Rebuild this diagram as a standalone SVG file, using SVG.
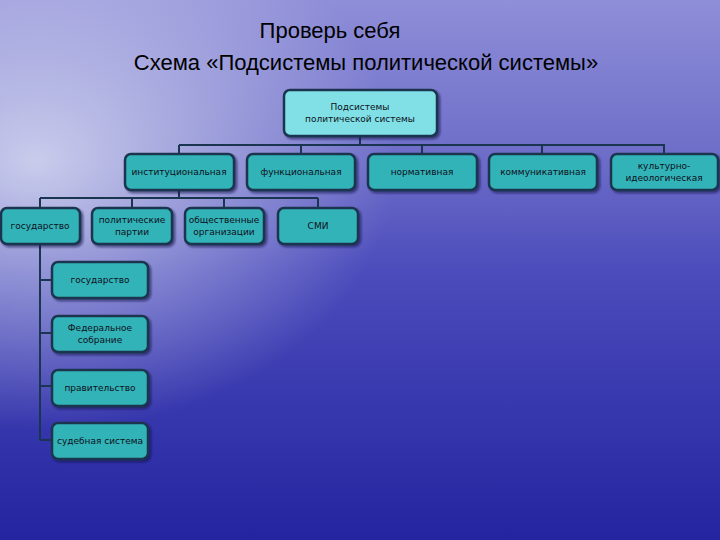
<svg xmlns="http://www.w3.org/2000/svg" width="720" height="540" viewBox="0 0 720 540">
<defs>
<linearGradient id="bg" x1="0" y1="0" x2="0" y2="1">
<stop offset="0" stop-color="#8f8ed8"/>
<stop offset="0.3" stop-color="#6c6cc8"/>
<stop offset="0.5" stop-color="#4c4cbc"/>
<stop offset="1" stop-color="#2424a0"/>
</linearGradient>
<radialGradient id="glow" cx="0.05" cy="0.3" r="0.5">
<stop offset="0" stop-color="#e0e4f4" stop-opacity="0.8"/>
<stop offset="1" stop-color="#e0e4f4" stop-opacity="0"/>
</radialGradient>
<filter id="sh" x="-10%" y="-10%" width="130%" height="140%">
<feDropShadow dx="2" dy="2" stdDeviation="1" flood-color="#10104a" flood-opacity="0.6"/>
</filter>
</defs>
<style>
.b{fill:#33b3b8;stroke:#1a3550;stroke-width:2.5;filter:url(#sh)}
.r{fill:#80e0e6;stroke:#1a3550;stroke-width:2.5;filter:url(#sh)}
.t{font-family:"DejaVu Sans",sans-serif;font-size:9px;fill:#101020;text-anchor:middle}
.h{font-family:"Liberation Sans",sans-serif;font-size:22px;fill:#000;text-anchor:middle}
.c{stroke:#1a3550;stroke-width:2;fill:none}
</style>
<rect width="720" height="540" fill="url(#bg)"/>
<rect width="720" height="540" fill="url(#glow)"/>
<text class="h" x="330" y="38">Проверь себя</text>
<text class="h" x="366" y="70">Схема «Подсистемы политической системы»</text>
<g id="connectors">
<path class="c" d="M360 137V145M179 145H665M179 145V154M301 145V154M422 145V154M542 145V154M664 145V154"/>
<path class="c" d="M179 190V198M40 198H318M40 198V208M132 198V208M224 198V208M318 198V208"/>
<path class="c" d="M40 244V440M40 280H52M40 333H52M40 386H52M40 440H52"/>
</g>
<g id="root"><rect class="r" x="284" y="90" width="153" height="46" rx="6"/><text class="t" x="360" y="110">Подсистемы</text><text class="t" x="360" y="122">политической системы</text></g>
<g id="inst"><rect class="b" x="125" y="154" width="109" height="36" rx="6"/><text class="t" x="179" y="175">институциональная</text></g>
<g id="func"><rect class="b" x="247" y="154" width="108" height="36" rx="6"/><text class="t" x="301" y="175">функциональная</text></g>
<g id="norm"><rect class="b" x="368" y="154" width="109" height="36" rx="6"/><text class="t" x="422" y="175">нормативная</text></g>
<g id="comm"><rect class="b" x="489" y="154" width="108" height="36" rx="6"/><text class="t" x="543" y="175">коммуникативная</text></g>
<g id="cult"><rect class="b" x="611" y="154" width="107" height="36" rx="6"/><text class="t" x="664" y="169">культурно-</text><text class="t" x="664" y="181">идеологическая</text></g>
<g id="gos1"><rect class="b" x="1" y="208" width="79" height="36" rx="6"/><text class="t" x="40" y="229">государство</text></g>
<g id="part"><rect class="b" x="92" y="208" width="80" height="36" rx="6"/><text class="t" x="132" y="223">политические</text><text class="t" x="132" y="235">партии</text></g>
<g id="obsh"><rect class="b" x="185" y="208" width="79" height="36" rx="6"/><text class="t" x="224" y="223">общественные</text><text class="t" x="224" y="235">организации</text></g>
<g id="smi"><rect class="b" x="278" y="208" width="80" height="36" rx="6"/><text class="t" x="318" y="229">СМИ</text></g>
<g id="gos2"><rect class="b" x="52" y="262" width="96" height="36" rx="6"/><text class="t" x="100" y="283">государство</text></g>
<g id="fed"><rect class="b" x="52" y="316" width="96" height="36" rx="6"/><text class="t" x="100" y="331">Федеральное</text><text class="t" x="100" y="343">собрание</text></g>
<g id="prav"><rect class="b" x="52" y="370" width="96" height="36" rx="6"/><text class="t" x="100" y="391">правительство</text></g>
<g id="sud"><rect class="b" x="52" y="423" width="96" height="36" rx="6"/><text class="t" x="100" y="444">судебная система</text></g>
</svg>
